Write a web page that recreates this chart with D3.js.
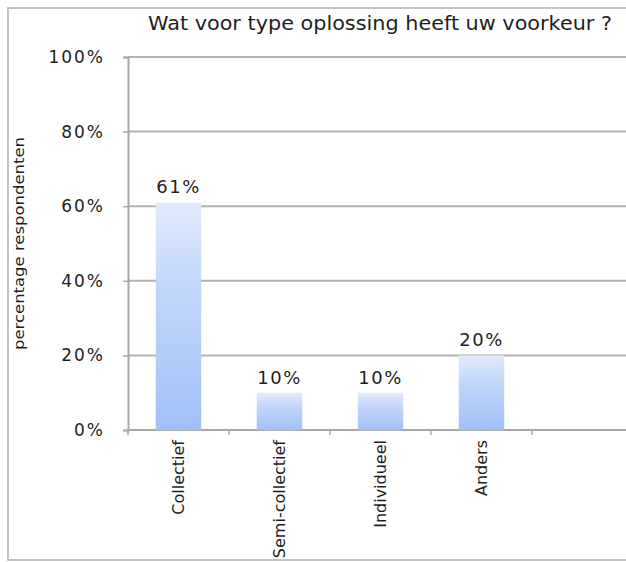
<!DOCTYPE html>
<html>
<head>
<meta charset="utf-8">
<script src="https://cdn.jsdelivr.net/npm/d3@7"></script>
<style>
  html, body { margin: 0; padding: 0; background: #fff; }
  svg { display: block; }
  text { font-family: "DejaVu Sans", "Liberation Sans", sans-serif; fill: #1e1e1e; }
</style>
</head>
<body>
<svg id="chart" width="626" height="562"></svg>
<script>
// Survey answers: preferred type of solution
const categories = ["Collectief", "Semi-collectief", "Individueel", "Anders", ""];
const values = [61, 10, 10, 20, null];
const yTicks = [0, 20, 40, 60, 80, 100];
const chartTitle = "Wat voor type oplossing heeft uw voorkeur ?";
const yTitle = "percentage respondenten";

const svg = d3.select("#chart");
const W = 626, H = 562;
const margin = { top: 57, left: 128, bottom: 132 };
const plotW = 505;

// outer frame of the chart object
svg.append("path")
  .attr("d", `M${W + 2},8 H8 V${H - 2} H${W + 2}`)
  .attr("fill", "none")
  .attr("stroke", "#c4c4c4")
  .attr("stroke-width", 2);

const x = d3.scaleBand()
  .domain(categories.map((c, i) => i))
  .range([margin.left, margin.left + plotW])
  .paddingInner(0.55)
  .paddingOuter(0.275);

const y = d3.scaleLinear()
  .domain([0, 100])
  .range([H - margin.bottom, margin.top]);

// bar gradient: pale at the top, deeper blue at the base
const defs = svg.append("defs");
const grad = defs.append("linearGradient")
  .attr("id", "barFill")
  .attr("x1", 0).attr("y1", 0).attr("x2", 0).attr("y2", 1);
grad.append("stop").attr("offset", "0%").attr("stop-color", "#e2ebfc");
grad.append("stop").attr("offset", "35%").attr("stop-color", "#c3d7fa");
grad.append("stop").attr("offset", "100%").attr("stop-color", "#a2c0f7");

// horizontal gridlines
svg.append("g")
  .selectAll("line")
  .data(yTicks.filter(t => t > 0))
  .join("line")
  .attr("x1", margin.left)
  .attr("x2", W + 10)
  .attr("y1", d => y(d))
  .attr("y2", d => y(d))
  .attr("stroke", "#b2b2b2")
  .attr("stroke-width", 2);

// y axis
const yAxis = svg.append("g")
  .attr("transform", `translate(${margin.left},0)`)
  .call(d3.axisLeft(y).tickValues(yTicks).tickFormat(d => d + "%").tickSize(5).tickPadding(18));
yAxis.select(".domain").attr("stroke", "#a8a8a8").attr("stroke-width", 2);
yAxis.selectAll(".tick line").attr("stroke", "#a8a8a8").attr("stroke-width", 1.5);
yAxis.selectAll(".tick text")
  .style("font-family", "DejaVu Sans, sans-serif")
  .style("font-size", "17px")
  .style("letter-spacing", "2px")
  .attr("fill", "#1e1e1e");

// x axis with ticks between categories
const bandStep = x.step();
const bounds = d3.range(categories.length + 1).map(i => margin.left + i * bandStep);
const xAxis = svg.append("g");
xAxis.append("line")
  .attr("x1", margin.left).attr("x2", W + 10)
  .attr("y1", y(0)).attr("y2", y(0))
  .attr("stroke", "#a8a8a8").attr("stroke-width", 2);
xAxis.selectAll("line.tk")
  .data(bounds)
  .join("line")
  .attr("class", "tk")
  .attr("x1", d => d).attr("x2", d => d)
  .attr("y1", y(0)).attr("y2", y(0) + 5)
  .attr("stroke", "#a8a8a8").attr("stroke-width", 1.5);

// category labels, rotated
xAxis.selectAll("text.cat")
  .data(categories)
  .join("text")
  .attr("class", "cat")
  .attr("transform", (d, i) => `translate(${x(i) + x.bandwidth() / 2 + 5},${y(0) + 10}) rotate(-90)`)
  .attr("text-anchor", "end")
  .style("font-size", "16px")
  .text(d => d);

// bars
const data = categories.map((c, i) => ({ i, c, v: values[i] })).filter(d => d.v != null);
svg.append("g")
  .selectAll("rect")
  .data(data)
  .join("rect")
  .attr("x", d => x(d.i))
  .attr("width", x.bandwidth())
  .attr("y", d => y(d.v))
  .attr("height", d => y(0) - y(d.v))
  .attr("fill", "url(#barFill)");

// value labels
svg.append("g")
  .selectAll("text")
  .data(data)
  .join("text")
  .attr("x", d => x(d.i) + x.bandwidth() / 2)
  .attr("y", d => y(d.v) - 9)
  .attr("text-anchor", "middle")
  .style("font-size", "18px")
  .style("letter-spacing", "1.5px")
  .text(d => d.v + "%");

// chart title
svg.append("text")
  .attr("x", 380)
  .attr("y", 30)
  .attr("text-anchor", "middle")
  .style("font-size", "20px")
  .attr("textLength", 464)
  .attr("lengthAdjust", "spacingAndGlyphs")
  .text(chartTitle);

// y axis title
svg.append("text")
  .attr("transform", `translate(24,${(137 + 350) / 2}) rotate(-90)`)
  .attr("text-anchor", "middle")
  .style("font-size", "14px")
  .attr("textLength", 213)
  .attr("lengthAdjust", "spacingAndGlyphs")
  .text(yTitle);
</script>
</body>
</html>
